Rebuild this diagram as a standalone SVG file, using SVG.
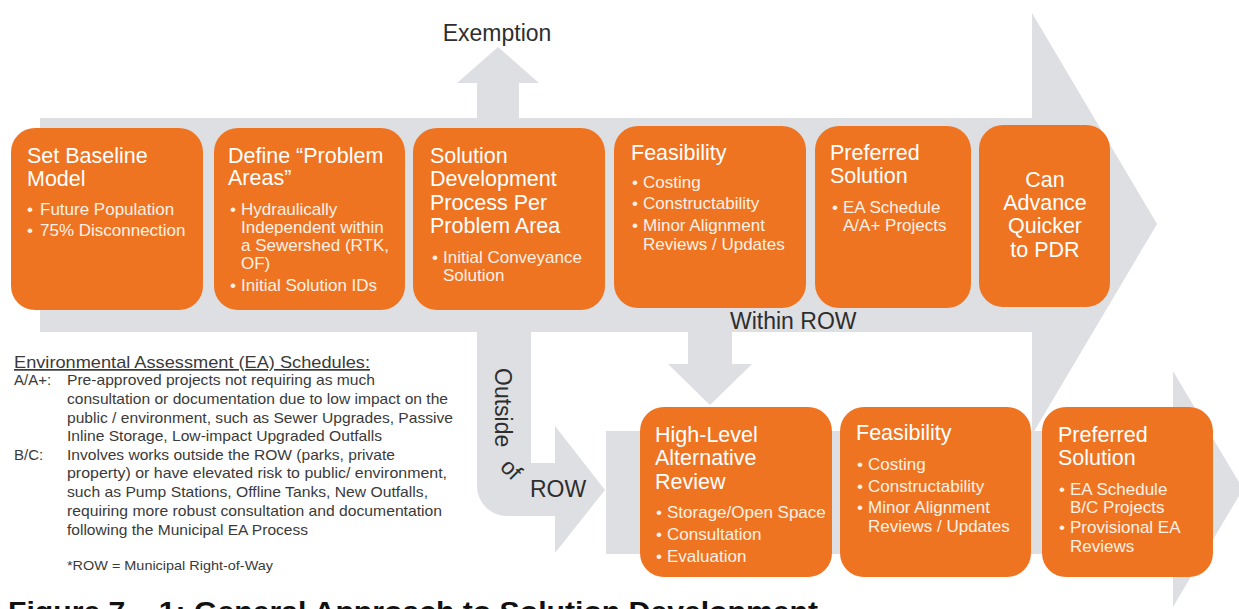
<svg xmlns="http://www.w3.org/2000/svg" width="1239" height="609" viewBox="0 0 1239 609">
<style>
.box{fill:#EE7422}
.arw{fill:#DDDFE2}
.h{font-family:"Liberation Sans",Arial,sans-serif;font-size:21.5px;fill:#FFFFFF}
.b{font-family:"Liberation Sans",Arial,sans-serif;font-size:17px;fill:#FDF1E6}
.lbl{font-family:"Liberation Sans",Arial,sans-serif;font-size:23px;fill:#2E2E2E}
.lg{font-family:"Liberation Sans",Arial,sans-serif;font-size:15px;fill:#3A3A3A}
.cap{font-family:"Liberation Sans",Arial,sans-serif;font-size:28px;font-weight:bold;fill:#111111}
</style>
<rect width="1239" height="609" fill="#FFFFFF"/>
<g id="connectors">
  <path class="arw" d="M40,118 L477,118 L477,83 L457,83 L498,47 L539,83 L519,83 L519,118 L1032,118 L1032,13 L1157,224 L1032,435 L1032,332 L40,332 Z"/>
  <path class="arw" d="M688,330 L732,330 L732,364 L752,364 L710,405 L668,364 L688,364 Z"/>
  <path class="arw" d="M477,330 L531,330 L531,463 L555,463 L555,426 L605,490 L555,553 L555,516 L507,516 A30,30 0 0 1 477,486 Z"/>
  <path class="arw" d="M606,431 L1173,431 L1173,371 L1243,489 L1173,607 L1173,554 L606,554 Z"/>
  <text class="lbl" x="497" y="41" text-anchor="middle">Exemption</text>
  <text class="lbl" x="730" y="329">Within ROW</text>
  <text class="lbl" transform="translate(495,368) rotate(90)">Outside</text>
  <text class="lbl" transform="translate(499,468) rotate(45)">of</text>
  <text class="lbl" x="530" y="497">ROW</text>
</g>
<g id="n1">
  <rect class="box" x="11" y="128" width="192" height="182" rx="24"/>
  <text class="h" x="27" y="163">Set Baseline</text>
  <text class="h" x="27" y="186">Model</text>
  <text class="b" x="27" y="215">•</text><text class="b" x="40" y="215">Future Population</text>
  <text class="b" x="27" y="236">•</text><text class="b" x="40" y="236">75% Disconnection</text>
</g>
<g id="n2">
  <rect class="box" x="214" y="128" width="191" height="182" rx="24"/>
  <text class="h" x="228" y="163">Define “Problem</text>
  <text class="h" x="228" y="185">Areas”</text>
  <text class="b" x="230" y="215">•</text><text class="b" x="241" y="215">Hydraulically</text>
  <text class="b" x="241" y="233">Independent within</text>
  <text class="b" x="241" y="251">a Sewershed (RTK,</text>
  <text class="b" x="241" y="269">OF)</text>
  <text class="b" x="230" y="291">•</text><text class="b" x="241" y="291">Initial Solution IDs</text>
</g>
<g id="n3">
  <rect class="box" x="413" y="128" width="192" height="182" rx="24"/>
  <text class="h" x="430" y="163">Solution</text>
  <text class="h" x="430" y="186">Development</text>
  <text class="h" x="430" y="210">Process Per</text>
  <text class="h" x="430" y="233">Problem Area</text>
  <text class="b" x="432" y="263">•</text><text class="b" x="443" y="263">Initial Conveyance</text>
  <text class="b" x="443" y="281">Solution</text>
</g>
<g id="n4">
  <rect class="box" x="614" y="126" width="192" height="182" rx="24"/>
  <text class="h" x="631" y="160">Feasibility</text>
  <text class="b" x="632" y="188">•</text><text class="b" x="643" y="188">Costing</text>
  <text class="b" x="632" y="209">•</text><text class="b" x="643" y="209">Constructability</text>
  <text class="b" x="632" y="231">•</text><text class="b" x="643" y="231">Minor Alignment</text>
  <text class="b" x="643" y="250">Reviews / Updates</text>
</g>
<g id="n5">
  <rect class="box" x="815" y="126" width="156" height="182" rx="24"/>
  <text class="h" x="830" y="160">Preferred</text>
  <text class="h" x="830" y="183">Solution</text>
  <text class="b" x="832" y="213">•</text><text class="b" x="843" y="213">EA Schedule</text>
  <text class="b" x="843" y="231">A/A+ Projects</text>
</g>
<g id="n6">
  <rect class="box" x="979" y="125" width="131" height="182" rx="24"/>
  <text class="h" x="1045" y="187" text-anchor="middle">Can</text>
  <text class="h" x="1045" y="210" text-anchor="middle">Advance</text>
  <text class="h" x="1045" y="233" text-anchor="middle">Quicker</text>
  <text class="h" x="1045" y="257" text-anchor="middle">to PDR</text>
</g>
<g id="n7">
  <rect class="box" x="640" y="407" width="192" height="170" rx="24"/>
  <text class="h" x="655" y="442">High-Level</text>
  <text class="h" x="655" y="465">Alternative</text>
  <text class="h" x="655" y="489">Review</text>
  <text class="b" x="656" y="518">•</text><text class="b" x="667" y="518">Storage/Open Space</text>
  <text class="b" x="656" y="540">•</text><text class="b" x="667" y="540">Consultation</text>
  <text class="b" x="656" y="562">•</text><text class="b" x="667" y="562">Evaluation</text>
</g>
<g id="n8">
  <rect class="box" x="840" y="407" width="191" height="170" rx="24"/>
  <text class="h" x="856" y="440">Feasibility</text>
  <text class="b" x="857" y="470">•</text><text class="b" x="868" y="470">Costing</text>
  <text class="b" x="857" y="492">•</text><text class="b" x="868" y="492">Constructability</text>
  <text class="b" x="857" y="513">•</text><text class="b" x="868" y="513">Minor Alignment</text>
  <text class="b" x="868" y="532">Reviews / Updates</text>
</g>
<g id="n9">
  <rect class="box" x="1042" y="407" width="171" height="170" rx="24"/>
  <text class="h" x="1058" y="442">Preferred</text>
  <text class="h" x="1058" y="465">Solution</text>
  <text class="b" x="1059" y="495">•</text><text class="b" x="1070" y="495">EA Schedule</text>
  <text class="b" x="1070" y="513">B/C Projects</text>
  <text class="b" x="1059" y="533">•</text><text class="b" x="1070" y="533">Provisional EA</text>
  <text class="b" x="1070" y="552">Reviews</text>
</g>
<g id="legend">
  <text class="lg" x="14" y="368" style="font-size:17px" text-decoration="underline" textLength="356" lengthAdjust="spacingAndGlyphs">Environmental Assessment (EA) Schedules:</text>
  <text class="lg" x="14" y="385">A/A+:</text>
  <text class="lg" x="67" y="385" textLength="308" lengthAdjust="spacingAndGlyphs">Pre-approved projects not requiring as much</text>
  <text class="lg" x="67" y="404" textLength="381" lengthAdjust="spacingAndGlyphs">consultation or documentation due to low impact on the</text>
  <text class="lg" x="67" y="423" textLength="386" lengthAdjust="spacingAndGlyphs">public / environment, such as Sewer Upgrades, Passive</text>
  <text class="lg" x="67" y="441" textLength="315" lengthAdjust="spacingAndGlyphs">Inline Storage, Low-impact Upgraded Outfalls</text>
  <text class="lg" x="14" y="460">B/C:</text>
  <text class="lg" x="67" y="460" textLength="328" lengthAdjust="spacingAndGlyphs">Involves  works outside the ROW (parks, private</text>
  <text class="lg" x="67" y="478" textLength="380" lengthAdjust="spacingAndGlyphs">property) or have elevated risk to public/ environment,</text>
  <text class="lg" x="67" y="497" textLength="361" lengthAdjust="spacingAndGlyphs">such as Pump Stations, Offline Tanks, New Outfalls,</text>
  <text class="lg" x="67" y="516" textLength="375" lengthAdjust="spacingAndGlyphs">requiring more robust consultation and documentation</text>
  <text class="lg" x="67" y="535" textLength="241" lengthAdjust="spacingAndGlyphs">following the Municipal EA Process</text>
  <text class="lg" x="67" y="570" style="font-size:13px" textLength="206" lengthAdjust="spacingAndGlyphs">*ROW = Municipal Right-of-Way</text>
</g>
<g id="caption">
  <text class="cap" x="8" y="621" textLength="810" lengthAdjust="spacingAndGlyphs">Figure 7 – 1:  General Approach to Solution Development</text>
</g>
</svg>
